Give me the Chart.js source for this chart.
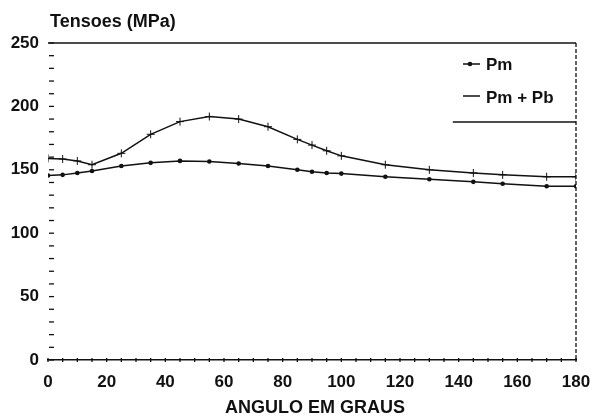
<!DOCTYPE html>
<html>
<head>
<meta charset="utf-8">
<script src="https://cdn.jsdelivr.net/npm/chart.js@4/dist/chart.umd.min.js"></script>
<style>
  html, body { margin: 0; padding: 0; background: #fff; }
  #wrap { width: 592px; height: 420px; }
</style>
</head>
<body>
<div id="wrap"><canvas id="chart" width="592" height="420"></canvas></div>
<script>
// data
const angles = [0, 5, 10, 15, 25, 35, 45, 55, 65, 75, 85, 90, 95, 100, 115, 130, 145, 155, 170, 180];
const pm = [145.5, 146, 147.5, 149, 153, 155.5, 157, 156.5, 155, 153, 150, 148.5, 147.5, 147, 144.5, 142.5, 140.5, 139, 137, 137];
const pmPb = [159, 158.5, 157, 154, 163, 178, 188, 192, 190, 184, 174, 169.5, 165, 161, 154, 150, 147.5, 146, 144.5, 144.5];
const yLabels = [0, 50, 100, 150, 200, 250];
const xLabels = [0, 20, 40, 60, 80, 100, 120, 140, 160, 180];

const ink = '#111';
const font = 'Liberation Sans, Arial, sans-serif';

// frame, ticks, titles and legend
const decorations = {
  id: 'decorations',
  afterDraw(chart) {
    const { ctx, chartArea: a, scales } = chart;
    const x = scales.x, y = scales.y;
    ctx.save();
    ctx.strokeStyle = ink;
    ctx.lineWidth = 1.3;

    // top border
    ctx.beginPath();
    ctx.moveTo(a.left, a.top);
    ctx.lineTo(a.right, a.top);
    ctx.stroke();

    // right border, dashed
    ctx.setLineDash([4, 2]);
    ctx.beginPath();
    ctx.moveTo(a.right, a.top);
    ctx.lineTo(a.right, a.bottom);
    ctx.stroke();
    ctx.setLineDash([]);

    // y ticks every 10, inside plot
    y.ticks.forEach(t => {
      const py = y.getPixelForValue(t.value);
      ctx.beginPath();
      ctx.moveTo(a.left + 1, py);
      ctx.lineTo(a.left + 6, py);
      ctx.stroke();
    });

    // x minor ticks every 5
    x.ticks.forEach(t => {
      const px = x.getPixelForValue(t.value);
      ctx.beginPath();
      ctx.moveTo(px, a.bottom - 2);
      ctx.lineTo(px, a.bottom + 2);
      ctx.stroke();
    });

    // legend
    const lx = x.getPixelForValue(138);
    ctx.beginPath();
    ctx.moveTo(lx, 122);
    ctx.lineTo(a.right, 122);
    ctx.stroke();

    ctx.lineWidth = 1.5;
    ctx.beginPath();
    ctx.moveTo(463, 64);
    ctx.lineTo(480, 64);
    ctx.moveTo(463, 96);
    ctx.lineTo(480, 96);
    ctx.stroke();
    ctx.fillStyle = ink;
    ctx.beginPath();
    ctx.arc(470, 64, 2.3, 0, Math.PI * 2);
    ctx.fill();

    ctx.font = 'bold 17px ' + font;
    ctx.textBaseline = 'middle';
    ctx.textAlign = 'left';
    ctx.fillText('Pm', 486, 65);
    ctx.fillText('Pm + Pb', 486, 98);

    // titles
    ctx.font = 'bold 18px ' + font;
    ctx.fillText('Tensoes (MPa)', 50, 22);
    ctx.textAlign = 'center';
    ctx.fillText('ANGULO EM GRAUS', (a.left + a.right) / 2 + 3, 408);
    ctx.restore();
  }
};

new Chart(document.getElementById('chart'), {
  type: 'line',
  data: {
    labels: angles,
    datasets: [
      {
        label: 'Pm',
        data: angles.map((a, i) => ({ x: a, y: pm[i] })),
        borderColor: ink,
        backgroundColor: ink,
        borderWidth: 1.5,
        pointStyle: 'circle',
        pointRadius: 2.3,
        pointBorderWidth: 0,
        tension: 0
      },
      {
        label: 'Pm + Pb',
        data: angles.map((a, i) => ({ x: a, y: pmPb[i] })),
        borderColor: ink,
        backgroundColor: ink,
        borderWidth: 1.5,
        pointStyle: 'cross',
        pointRadius: 4,
        pointBorderWidth: 1,
        tension: 0
      }
    ]
  },
  options: {
    responsive: false,
    animation: false,
    layout: { padding: { top: 43, right: 16, left: 0, bottom: 0 } },
    plugins: {
      legend: { display: false },
      tooltip: { enabled: false }
    },
    scales: {
      x: {
        type: 'linear',
        min: 0,
        max: 180,
        afterFit(s) {
          s.height = 60;
          s.paddingLeft = 0;
          s.paddingRight = 0;
        },
        border: { display: true, color: ink, width: 1.5 },
        grid: { display: false },
        ticks: {
          stepSize: 5,
          autoSkip: false,
          maxRotation: 0,
          padding: 4,
          color: ink,
          font: { family: font, size: 17, weight: 'bold' },
          callback: v => xLabels.includes(v) ? String(v) : ''
        }
      },
      y: {
        min: 0,
        max: 250,
        afterFit(s) { s.width = 48; },
        border: { display: false },
        grid: { display: false },
        ticks: {
          stepSize: 10,
          autoSkip: false,
          padding: 1,
          color: ink,
          font: { family: font, size: 17, weight: 'bold' },
          callback: v => yLabels.includes(v) ? String(v) : ''
        }
      }
    }
  },
  plugins: [decorations]
});
</script>
</body>
</html>
